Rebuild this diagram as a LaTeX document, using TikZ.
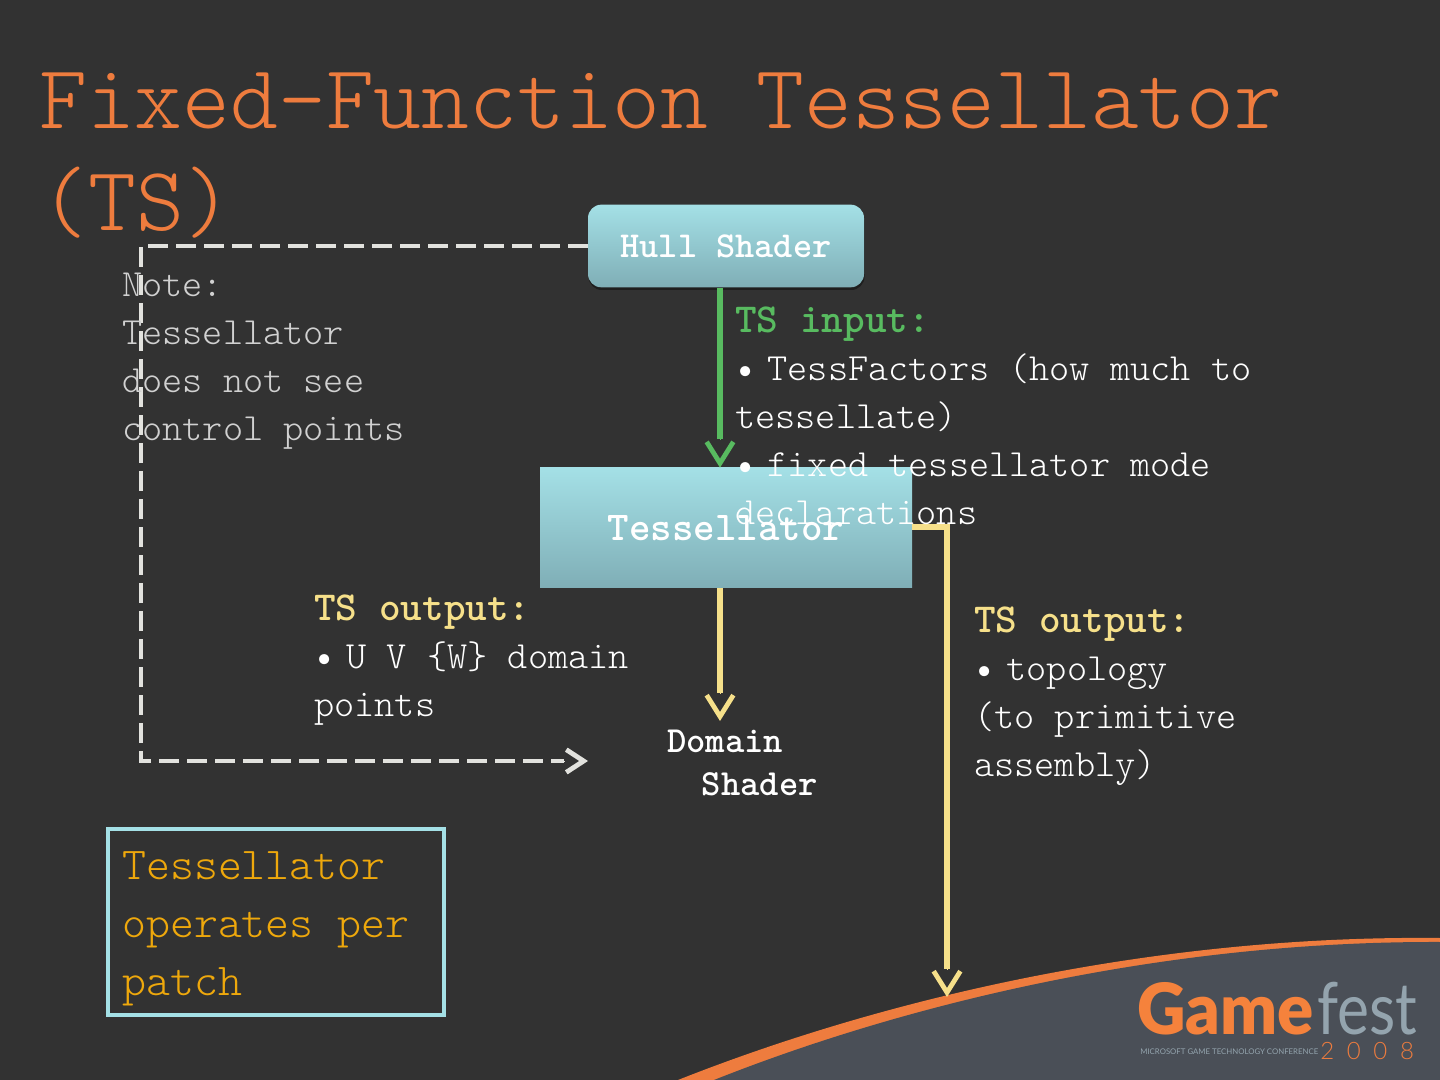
\documentclass[tikz,border=0pt]{standalone}
\usepackage{fontspec}
\usepackage{xcolor}
\usetikzlibrary{arrows.meta,calc,shadows}
\newfontfamily\logobold{Lato Black}
\newfontfamily\logolight{Lato Light}
\newfontfamily\logotext{Lato}
\newfontfamily\thinmono{Latin Modern Mono Light}
\newcommand{\tsdot}{•\hspace{-6pt}\ }
\newcommand{\tshead}[2]{\textcolor{#1}{\fontsize{30.9}{36}\selectfont\ttfamily\bfseries #2}}
\definecolor{slidebg}{HTML}{323232}
\definecolor{swoosh}{HTML}{4A4F57}
\definecolor{hotorange}{HTML}{EE7C3E}
\definecolor{logoorange}{HTML}{F5823C}
\definecolor{logogrey}{HTML}{94A4AE}
\definecolor{tsgreen}{HTML}{58BB60}
\definecolor{tsyellow}{HTML}{F6E08A}
\definecolor{amber}{HTML}{EEA80C}
\definecolor{boxtop}{HTML}{A4E0E6}
\definecolor{boxbot}{HTML}{7FAEB6}
\definecolor{dashgrey}{HTML}{E2E2DE}
\begin{document}
\begin{tikzpicture}[x=0.75pt,y=-0.75pt,
  bigtip/.tip={Bar[width=0.1pt,line width=0.1pt] . Straight Barb[length=16pt,width=20pt,line width=3.6pt]},
  titletext/.style={font=\thinmono\fontsize{68.3}{76.5}\selectfont,text=hotorange,align=left,inner sep=0pt,anchor=north west},
  bodytext/.style={font=\thinmono\fontsize{28.8}{36}\selectfont,text=white,align=left,inner sep=0pt,anchor=north west},
  notetext/.style={bodytext,text=black!18},
  shaderbox/.style={top color=boxtop,bottom color=boxbot,text=white,font=\ttfamily\bfseries\fontsize{27.4}{32}\selectfont,inner sep=0pt},
  greenline/.style={line width=4.5pt,draw=tsgreen,-{bigtip}},
  yellowline/.style={line width=4.5pt,draw=tsyellow,-{bigtip}},
  dashline/.style={line width=3pt,draw=dashgrey,dash pattern=on 15pt off 6pt,-{Bar[width=0.1pt,line width=0.1pt] . Straight Barb[length=13pt,width=17pt,line width=3.6pt]}}]

\useasboundingbox (0,0) rectangle (1440,1080);
\fill[slidebg] (0,0) rectangle (1440,1080);

% Swoosh at the bottom
\fill[hotorange] (678,1080) .. controls (880,1000) and (1150,935) .. (1440,938) -- (1440,1080) -- cycle;
\fill[swoosh] (714,1080) .. controls (890,1010) and (1150,941) .. (1440,942) -- (1440,1080) -- cycle;

% Logo
\node[inner sep=0pt,anchor=base west,text=logoorange,xscale=0.95,font=\logobold\fontsize{53}{53}\selectfont] (game) at (1137,1034) {Game};
\node[inner sep=0pt,anchor=base west,text=logogrey,xscale=0.84,font=\logotext\fontsize{54}{54}\selectfont] (fest) at (1317,1034) {fest};
\node[inner sep=0pt,anchor=base west,text=logogrey,font=\logotext\fontsize{5.85}{6}\selectfont] (conf) at (1140,1054) {MICROSOFT GAME TECHNOLOGY CONFERENCE};
\node[inner sep=0pt,anchor=base west,text=hotorange,font=\logolight\fontsize{18}{18}\selectfont] (year) at (1320,1059) {2\hspace{9.5pt}0\hspace{9.5pt}0\hspace{9.5pt}8};

% Title
\node[titletext] (title) at (39,73) {Fixed-Function Tessellator\\\hspace*{1pt}(TS)};

% Shaders
\node[shaderbox,rounded corners=10pt,minimum width=207pt,minimum height=62pt,drop shadow={shadow xshift=0.4pt,shadow yshift=-2pt,opacity=0.4,fill=black}] (hull) at (726,246) {Hull Shader};
\node[shaderbox,minimum width=279pt,minimum height=90pt,font=\ttfamily\bfseries\fontsize{30.7}{34}\selectfont] (tess) at (726,528) {Tessellator};
\node[inner sep=0pt,text=white,align=left,anchor=north west,font=\ttfamily\bfseries\fontsize{27.6}{32.3}\selectfont] (domain) at (667,730) {Domain\\\hspace*{26pt}Shader};

% Connectors
\coordinate (axis) at (720,0);
\coordinate (cornerbot) at (141,761);
\coordinate (dsin) at (588,761);
\coordinate (corner) at (947,527);
\coordinate (paend) at (947,997);
\coordinate (dsend) at (720,721);
\draw[dashline] (hull.west) -| (cornerbot) -- (dsin);
\draw[greenline] (axis |- hull.south) -- (axis |- tess.north);
\draw[yellowline] (axis |- tess.south) -- (dsend);
\draw[yellowline] (tess.east |- corner) -- (corner) -- (paend);

% Labels
\node[notetext] (note) at (122,273) {Note:\\Tessellator\\does not see\\control points};
\node[bodytext] (tsinput) at (735,307) {\tshead{tsgreen}{TS input:}\\\tsdot TessFactors (how much to\\tessellate)\\\tsdot fixed tessellator mode\\declarations};
\node[bodytext] (tsoutleft) at (314,595) {\tshead{tsyellow}{TS output:}\\\tsdot U V \{W\} domain\\points};
\node[bodytext] (tsoutright) at (974,607) {\tshead{tsyellow}{TS output:}\\\tsdot topology\\(to primitive\\assembly)};

% Patch note
\node[draw=boxtop,line width=3pt,inner sep=0pt,minimum width=252pt,minimum height=140pt] (patchbox) at (276,922) {};
\node[inner sep=0pt,anchor=north west,align=left,text=amber,font=\thinmono\fontsize{34.2}{43.5}\selectfont] (patch) at (122,851) {Tessellator\\operates per\\patch};

\end{tikzpicture}
\end{document}
